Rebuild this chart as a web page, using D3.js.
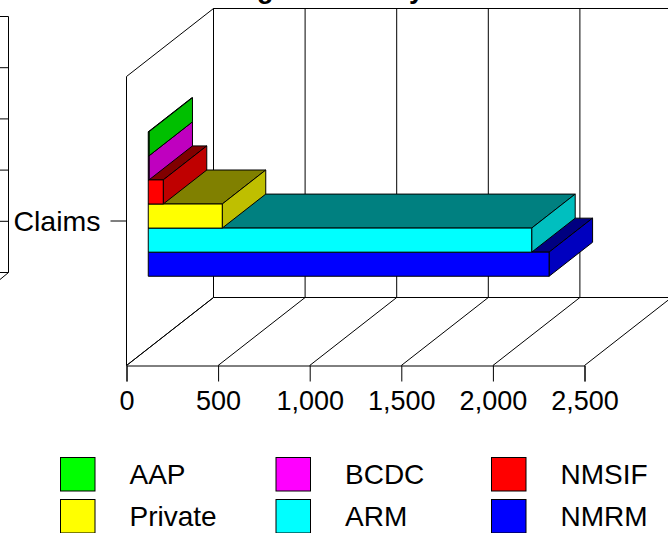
<!DOCTYPE html>
<html>
<head>
<title>Claims</title>
<script src="https://d3js.org/d3.v7.min.js"></script>
<style>
html, body { margin: 0; padding: 0; background: #fff; }
svg { display: block; }
text { font-family: "Liberation Sans", Arial, sans-serif; font-size: 27px; fill: #000; }
</style>
</head>
<body>
<svg id="chart" width="668" height="533"></svg>
<script>
// top to bottom in the stack, same order as the legend
var seriesNames = ["AAP", "BCDC", "NMSIF", "Private", "ARM", "NMRM"];
var seriesValues = [4, 4, 82, 404, 2093, 2188];
var seriesColors = ["#00ff00", "#ff00ff", "#ff0000", "#ffff00", "#00ffff", "#0000ff"];
var categories = ["Claims"];
var xTicks = [0, 500, 1000, 1500, 2000, 2500];
// what is left of the title and of the chart next to this one, both cut by the frame
var titleBits = [["g", 257], ["y", 409]];
var neighbourLines = [0, 1, 2, 3, 4, 5];

var svg = d3.select("#chart");

var x = d3.scaleLinear().domain([0, 2500]).range([126.5, 584.5]);
var yCat = d3.scaleBand().domain(categories).range([365.5, 76.5]);
var depthX = d3.scaleLinear().domain([0, 1]).range([0, 87]);
var depthY = d3.scaleLinear().domain([0, 1]).range([0, -68]);

// bars take the middle half of the category band, then shifted back by the depth
var yBar = d3.scaleBand().domain(seriesNames)
    .range([yCat("Claims") + yCat.bandwidth() * 0.75, yCat("Claims") + yCat.bandwidth() * 0.25]);
yBar.domain(seriesNames.slice().reverse());

function pt(v, y, d) {
    return [x(v) + depthX(d), y + depthY(d)];
}
function poly(points) {
    return d3.line()(points) + "Z";
}

var wall = svg.append("g").attr("fill", "none").attr("stroke", "#000").attr("stroke-width", 1);
var y0 = yCat.range()[0], y1 = yCat.range()[1];

// side wall and floor edge
wall.append("path").attr("d", poly([pt(0, y0, 0), pt(0, y1, 0), pt(0, y1, 1), pt(0, y0, 1)]));
wall.selectAll(".grid").data(xTicks).join("path").attr("class", "grid")
    .attr("d", d => d3.line()([pt(d, y0, 0), pt(d, y0, 1), pt(d, y1, 1)]));
wall.append("path").attr("d", d3.line()([pt(0, y1, 1), pt(2500, y1, 1)]));
wall.append("path").attr("d", d3.line()([pt(0, y0, 1), pt(2500, y0, 1)]));

// axes
var xAxis = svg.append("g").attr("transform", "translate(0," + y0 + ")")
    .call(d3.axisBottom(x).tickValues(xTicks).tickFormat(d3.format(",")).tickSize(16).tickPadding(9));
var yAxis = svg.append("g").attr("transform", "translate(" + x(0) + ",0)")
    .call(d3.axisLeft(yCat).tickSize(16).tickPadding(10));
svg.selectAll(".domain").attr("stroke", "#000").attr("stroke-width", 1);
svg.selectAll(".tick line").attr("stroke", "#000");
svg.selectAll(".tick text").style("font-size", "27px").style("font-family", '"Liberation Sans", Arial, sans-serif').attr("fill", "#000");
yAxis.select(".domain").remove();
yAxis.selectAll(".tick text").style("font-size", "28.5px").attr("y", 1);

// bars, bottom one first so the ones above sit over its top face
var barStart = 0.25, barEnd = 0.75;
var rows = seriesNames.map((n, i) => ({ name: n, value: seriesValues[i], color: seriesColors[i] })).reverse();

var bars = svg.append("g").attr("stroke", "#000").attr("stroke-width", 1).attr("stroke-linejoin", "round")
    .selectAll("g").data(rows).join("g");

bars.append("path").attr("class", "top")
    .attr("fill", d => d3.rgb(d3.color(d.color).r * 0.5, d3.color(d.color).g * 0.5, d3.color(d.color).b * 0.5))
    .attr("d", d => {
        var t = yBar(d.name);
        return poly([pt(0, t, barStart), pt(d.value, t, barStart), pt(d.value, t, barEnd), pt(0, t, barEnd)]);
    });
bars.append("path").attr("class", "side")
    .attr("fill", d => d3.rgb(d3.color(d.color).r * 0.75, d3.color(d.color).g * 0.75, d3.color(d.color).b * 0.75))
    .attr("d", d => {
        var t = yBar(d.name), b = t + yBar.bandwidth();
        return poly([pt(d.value, t, barStart), pt(d.value, b, barStart), pt(d.value, b, barEnd), pt(d.value, t, barEnd)]);
    });
bars.append("path").attr("class", "front")
    .attr("fill", d => d.color)
    .attr("d", d => {
        var t = yBar(d.name), b = t + yBar.bandwidth();
        return poly([pt(0, t, barStart), pt(d.value, t, barStart), pt(d.value, b, barStart), pt(0, b, barStart)]);
    });

// legend, three columns by two rows
var legCol = d3.scalePoint().domain([0, 1, 2]).range([60.5, 491.5]);
var legRow = d3.scalePoint().domain([0, 1]).range([457.5, 499.5]);
var legend = svg.append("g").selectAll("g").data(seriesNames.map((n, i) => ({ name: n, color: seriesColors[i], i: i }))).join("g")
    .attr("transform", d => "translate(" + legCol(d.i % 3) + "," + legRow(Math.floor(d.i / 3)) + ")");
legend.append("rect").attr("width", 34.5).attr("height", 33.5).attr("fill", d => d.color).attr("stroke", "#000");
legend.append("text").attr("x", 69).attr("y", 26.5).style("font-size", "28px").text(d => d.name);

// title descenders poking in at the top edge
svg.append("g").selectAll("text").data(titleBits).join("text")
    .attr("x", d => d[1]).attr("y", -2).attr("font-weight", "bold").text(d => d[0]);

// edge of the neighbouring chart
var nY = d3.scaleLinear().domain([0, 5]).range([16.5, 272.5]);
var nb = svg.append("g").attr("stroke", "#000").attr("fill", "none");
nb.selectAll("line").data(neighbourLines).join("line")
    .attr("x1", 0).attr("x2", 8.5).attr("y1", d => nY(d)).attr("y2", d => nY(d));
nb.append("path").attr("d", d3.line()([[8.5, nY(0)], [8.5, nY(5)], [0, nY(5) + 7]]));
</script>
</body>
</html>
